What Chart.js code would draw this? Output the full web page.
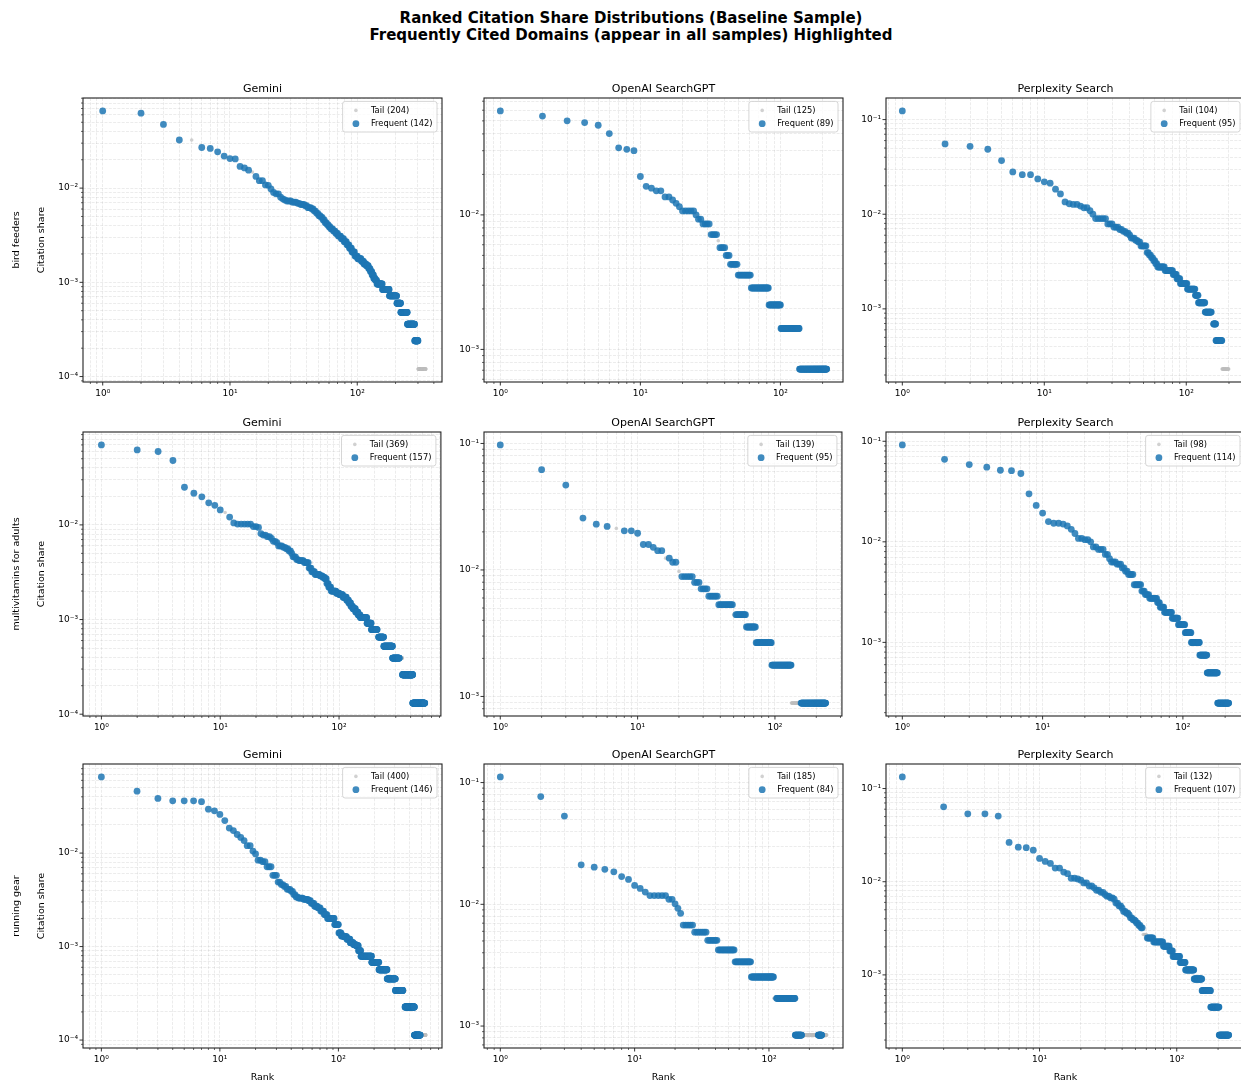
<!DOCTYPE html>
<html>
<head>
<meta charset="utf-8">
<script src="https://cdn.jsdelivr.net/npm/chart.js@4.4.0/dist/chart.umd.min.js"></script>
<style>
  html, body { margin: 0; padding: 0; background: #fff; }
  body { width: 1241px; height: 1084px; overflow: hidden; position: relative; font-family: 'DejaVu Sans', sans-serif; }
  #suptitle { position: absolute; left: 0; width: 1262px; top: 10px; text-align: center; font-weight: bold; font-size: 15px; line-height: 17px; color: #000; }
  canvas { position: absolute; }
</style>
</head>
<body>
<div id="suptitle">Ranked Citation Share Distributions (Baseline Sample)<br>Frequently Cited Domains (appear in all samples) Highlighted</div>
<script>
// panel labels
const engines = ['Gemini', 'OpenAI SearchGPT', 'Perplexity Search'];
const queries = ['bird feeders', 'multivitamins for adults', 'running gear'];

// legend counts per query row / engine column
const tailCounts = [[204, 125, 104], [369, 139, 98], [400, 185, 132]];
const frequentCounts = [[142, 89, 95], [157, 95, 114], [146, 84, 107]];

// share by rank: [first rank, share] holds until the next entry's rank
const birdGemini = [[1,.066],[2,.0625],[3,.0474],[4,.0324],[6,.027],[7,.0264],[8,.0243],[9,.0219],[10,.0206],[11,.0204],[12,.017],[13,.0164],[14,.0155],[15,.0148],[16,.0133],[17,.012],[19,.0108],[20,.0107],[21,.0098],[22,.009],[23,.0087],[25,.008],[26,.0077],[27,.0075],[28,.0073],[31,.0071],[34,.0069],[36,.0067],[39,.0065],[41,.0062],[44,.006],[46,.0057],[48,.0054],[50,.0051],[52,.0049],[54,.0046],[56,.0043],[58,.0041],[60,.0039],[62,.0037],[65,.0035],[68,.0033],[71,.0031],[75,.0029],[79,.0027],[83,.0025],[87,.0023],[91,.0021],[96,.0019],[101,.00178],[108,.00167],[113,.00157],[118,.0015],[123,.0014],[127,.0013],[131,.0012],[135,.0011],[139,.00105],[143,.00096],[158,.00084],[179,.00072],[205,.0006],[220,.00048],[248,.00036],[283,.00024],[301,.00012]];
const birdOpenAI = [[1,.0593],[2,.0543],[3,.05],[4,.0486],[5,.0464],[6,.0402],[7,.0315],[8,.0307],[9,.03],[10,.0193],[11,.0163],[12,.0158],[13,.0151],[15,.0136],[17,.0129],[18,.0122],[19,.0115],[20,.0107],[25,.01],[26,.0093],[28,.00857],[32,.00714],[36,.00643],[37,.00571],[41,.005],[44,.00429],[50,.00357],[62,.00286],[83,.00214],[101,.00143],[137,.000714]];
const birdPerplexity = [[1,.1235],[2,.0553],[3,.0522],[4,.0486],[5,.0369],[6,.028],[7,.0262],[9,.0236],[10,.022],[11,.0213],[12,.0184],[13,.0164],[14,.0135],[15,.0129],[16,.0127],[18,.0122],[19,.0117],[21,.0109],[22,.01],[23,.009],[28,.0079],[31,.0073],[34,.0069],[36,.0066],[38,.0063],[40,.006],[41,.0056],[44,.0053],[46,.0051],[48,.00462],[53,.00393],[55,.0037],[57,.00346],[59,.00323],[61,.003],[63,.00277],[71,.00254],[81,.00231],[86,.00208],[91,.00185],[102,.00162],[116,.00139],[122,.00116],[136,.000924],[151,.000693],[162,.000462],[179,.000231]];

const vitGemini = [[1,.07],[2,.0619],[3,.0596],[4,.0479],[5,.025],[6,.0216],[7,.0198],[8,.0171],[9,.0161],[10,.0144],[11,.0135],[12,.0121],[13,.0105],[14,.0102],[19,.0096],[21,.0094],[22,.0081],[23,.0078],[25,.0075],[27,.0072],[28,.0067],[30,.0065],[31,.006],[34,.0058],[36,.0056],[38,.0053],[40,.005],[41,.0046],[44,.0043],[46,.0042],[51,.004],[56,.0035],[59,.0032],[63,.003],[69,.0029],[73,.0028],[76,.0027],[79,.0024],[82,.0022],[86,.002],[95,.0019],[101,.00183],[108,.00172],[116,.0016],[121,.0015],[126,.00138],[131,.0013],[138,.0012],[145,.00112],[151,.00105],[172,.000914],[187,.000784],[210,.000653],[238,.000522],[282,.000392],[342,.000261],[417,.000131]];
const vitOpenAI = [[1,.0974],[2,.062],[3,.0469],[4,.0257],[5,.023],[6,.0221],[7,.0213],[8,.0204],[10,.0195],[11,.0159],[13,.0151],[14,.0142],[16,.0124],[18,.0115],[20,.00974],[21,.00886],[26,.00797],[29,.00709],[33,.0062],[39,.00531],[50,.00443],[62,.00354],[73,.00266],[95,.00177],[132,.000886]];
const vitPerplexity = [[1,.092],[2,.0662],[3,.0586],[4,.0552],[5,.0515],[6,.051],[7,.0478],[8,.03],[9,.023],[10,.0193],[11,.0159],[12,.0153],[14,.015],[15,.0144],[16,.0133],[17,.0121],[18,.0108],[20,.0105],[22,.01],[23,.0089],[25,.0084],[28,.0075],[30,.0068],[31,.0063],[34,.006],[37,.0055],[39,.0051],[41,.00473],[45,.00374],[51,.00324],[54,.00299],[58,.00274],[66,.00249],[69,.00224],[74,.00199],[84,.00174],[93,.0015],[104,.00125],[115,.000997],[132,.000747],[149,.000498],[177,.000249]];

const runGemini = [[1,.0653],[2,.0459],[3,.0384],[4,.0362],[7,.0355],[8,.0295],[9,.0283],[10,.0259],[11,.0223],[12,.0185],[13,.0174],[14,.0158],[15,.0147],[16,.0136],[17,.012],[19,.0105],[20,.0098],[21,.0084],[23,.0081],[25,.00714],[28,.00578],[31,.0049],[33,.0046],[35,.0044],[37,.0041],[40,.0039],[42,.0036],[44,.0034],[46,.0033],[51,.0032],[56,.0031],[59,.0029],[63,.0027],[67,.0026],[71,.0024],[76,.0022],[81,.002],[93,.00172],[101,.0014],[106,.0013],[111,.00128],[118,.0012],[126,.0011],[134,.00105],[141,.00102],[148,.000904],[155,.00079],[191,.000678],[220,.000565],[258,.000452],[303,.000339],[365,.000226],[438,.000113]];
const runOpenAI = [[1,.1113],[2,.0767],[3,.0531],[4,.0211],[5,.0202],[6,.0194],[7,.0185],[8,.0169],[9,.016],[10,.0143],[11,.0135],[12,.0126],[13,.0118],[18,.011],[20,.0101],[21,.00927],[22,.00843],[23,.00675],[28,.0059],[35,.00506],[42,.00422],[56,.00337],[74,.00253],[109,.00169],[157,.000843]];
const runPerplexity = [[1,.1333],[2,.0637],[3,.0536],[5,.0506],[6,.0264],[7,.0235],[8,.0232],[9,.0218],[10,.0178],[11,.0165],[12,.0157],[13,.014],[15,.0127],[16,.0122],[17,.0109],[19,.0107],[20,.0104],[21,.0097],[23,.009],[25,.0086],[26,.0081],[28,.0077],[30,.0073],[31,.007],[33,.0067],[35,.0065],[36,.0059],[38,.0055],[40,.0052],[41,.0048],[43,.0046],[45,.0044],[46,.0041],[48,.0039],[50,.0038],[51,.0036],[53,.0034],[55,.0032],[57,.00271],[61,.00249],[68,.00226],[80,.00203],[89,.00181],[94,.00158],[106,.00136],[116,.00113],[134,.000904],[153,.000678],[177,.000452],[204,.000226]];

// rank ranges that belong to the tail (grey) group and show in the picture
const birdGeminiTail = [[5,5],[15,15],[301,346]];
const birdOpenAITail = [[36,36]];
const birdPerplexityTail = [[151,155],[179,199]];
const vitGeminiTail = [[11,11],[210,214],[322,341]];
const vitOpenAITail = [[7,7],[16,16],[20,20],[50,51],[132,154]];
const vitPerplexityTail = [];
const runGeminiTail = [[350,364],[490,546]];
const runOpenAITail = [[109,113],[176,232],[248,269]];
const runPerplexityTail = [[57,60]];

const shareTable = [[birdGemini, birdOpenAI, birdPerplexity], [vitGemini, vitOpenAI, vitPerplexity], [runGemini, runOpenAI, runPerplexity]];
const tailTable = [[birdGeminiTail, birdOpenAITail, birdPerplexityTail], [vitGeminiTail, vitOpenAITail, vitPerplexityTail], [runGeminiTail, runOpenAITail, runPerplexityTail]];

const FONT = "'DejaVu Sans', sans-serif";
const BLUE = 'rgba(31,119,180,0.85)';
const GREY = 'rgba(190,190,190,0.7)';
const colLeft = [83, 484, 886];
const rowTop = [98, 432, 764];
const plotW = 359, plotH = 284, titleH = 20, padR = 4;

const SUP = {'-': '\u207B', '0': '\u2070', '1': '\u00B9', '2': '\u00B2', '3': '\u00B3', '4': '\u2074', '5': '\u2075', '6': '\u2076', '7': '\u2077', '8': '\u2078', '9': '\u2079'};
function powLabel(e) {
    return '10' + String(e).split('').map(c => SUP[c]).join('');
}
function isPow10(v) {
    const e = Math.log10(v);
    return Math.abs(e - Math.round(e)) < 1e-6;
}
function tickFormat(v) {
    return isPow10(v) ? powLabel(Math.round(Math.log10(v))) : '';
}
function logTicks(min, max) {
    const out = [];
    for (let e = Math.floor(Math.log10(min)) - 1; e <= Math.ceil(Math.log10(max)); e++) {
        for (let m = 1; m <= 9; m++) {
            const v = m * Math.pow(10, e);
            if (v >= min && v <= max) out.push({value: v});
        }
    }
    return out;
}
// matplotlib-like 5% margins in log space
function logLimits(lo, hi) {
    const a = Math.log10(lo), b = Math.log10(hi), m = 0.05 * (b - a);
    return [Math.pow(10, a - m), Math.pow(10, b + m)];
}
function expand(steps, n, tail) {
    const freq = [], grey = [];
    let k = 0;
    for (let r = 1; r <= n; r++) {
        while (k + 1 < steps.length && steps[k + 1][0] <= r) k++;
        const p = {x: r, y: steps[k][1]};
        if (tail.some(t => r >= t[0] && r <= t[1])) grey.push(p); else freq.push(p);
    }
    return {freq, grey};
}

// box around the axes plus outward major/minor tick marks
const framePlugin = {
    id: 'frame',
    afterDatasetsDraw(chart) {
        const {ctx, chartArea: a, scales} = chart;
        ctx.save();
        ctx.strokeStyle = '#000';
        scales.x.ticks.forEach(t => {
            const px = scales.x.getPixelForValue(t.value);
            const major = isPow10(t.value);
            ctx.lineWidth = major ? 0.8 : 0.6;
            ctx.beginPath();
            ctx.moveTo(px, a.bottom);
            ctx.lineTo(px, a.bottom + (major ? 3.5 : 2));
            ctx.stroke();
        });
        scales.y.ticks.forEach(t => {
            const py = scales.y.getPixelForValue(t.value);
            const major = isPow10(t.value);
            ctx.lineWidth = major ? 0.8 : 0.6;
            ctx.beginPath();
            ctx.moveTo(a.left, py);
            ctx.lineTo(a.left - (major ? 3.5 : 2), py);
            ctx.stroke();
        });
        ctx.strokeStyle = '#222';
        ctx.lineWidth = 1.1;
        ctx.strokeRect(a.left, a.top, a.right - a.left, a.bottom - a.top);
        ctx.restore();
    }
};

const legendPlugin = {
    id: 'boxLegend',
    afterDraw(chart) {
        const {ctx, chartArea: a} = chart;
        const ds = chart.data.datasets;
        ctx.save();
        ctx.font = '8.3px ' + FONT;
        const tw = Math.max(...ds.map(d => ctx.measureText(d.label).width));
        const w = 28.3 + tw + 4.5, h = 30.6;
        const x0 = a.right - 5 - w, y0 = a.top + 3.4;
        ctx.fillStyle = 'rgba(255,255,255,0.8)';
        ctx.strokeStyle = '#cccccc';
        ctx.lineWidth = 0.8;
        ctx.beginPath();
        ctx.roundRect(x0, y0, w, h, 2.5);
        ctx.fill();
        ctx.stroke();
        ds.forEach((d, k) => {
            const y = y0 + 9 + k * 13.3;
            ctx.fillStyle = d.backgroundColor;
            ctx.beginPath();
            ctx.arc(x0 + 13.3, y, d.pointRadius, 0, Math.PI * 2);
            ctx.fill();
            ctx.fillStyle = '#000';
            ctx.textBaseline = 'middle';
            ctx.textAlign = 'left';
            ctx.fillText(d.label, x0 + 28.3, y);
        });
        ctx.restore();
    }
};

function axisBase(limits) {
    return {
        type: 'logarithmic',
        min: limits[0],
        max: limits[1],
        afterBuildTicks: s => { s.ticks = logTicks(limits[0], limits[1]); },
        ticks: {autoSkip: false, maxRotation: 0, minRotation: 0, color: '#000', font: {family: FONT, size: 9}, callback: tickFormat},
        grid: {color: 'rgba(176,176,176,0.3)', lineWidth: 0.8, drawTicks: false},
        border: {display: false, dash: [3, 1.3]}
    };
}

shareTable.forEach((row, i) => row.forEach((steps, j) => {
    const n = tailCounts[i][j] + frequentCounts[i][j];
    const pts = expand(steps, n, tailTable[i][j]);
    const shares = steps.map(s => s[1]);
    const xl = logLimits(1, n);
    const yl = logLimits(Math.min(...shares), Math.max(...shares));
    const wy = j === 0 ? 80 : 44;
    const hx = i === 2 ? 42 : 26;

    const canvas = document.createElement('canvas');
    canvas.width = wy + plotW + padR;
    canvas.height = titleH + plotH + hx;
    canvas.style.left = (colLeft[j] - wy) + 'px';
    canvas.style.top = (rowTop[i] - titleH) + 'px';
    document.body.appendChild(canvas);

    const x = axisBase(xl);
    x.afterFit = s => { s.height = hx; };
    x.ticks.padding = 6.5;
    x.title = {display: i === 2, text: 'Rank', color: '#000', font: {family: FONT, size: 9.5}, padding: {top: 0, bottom: 6.3}};

    const y = axisBase(yl);
    y.afterFit = s => { s.width = wy; };
    y.ticks.padding = 5;
    y.title = {display: j === 0, text: [queries[i], 'Citation share'], color: '#000', font: {family: FONT, size: 9.5, lineHeight: 2.63}, padding: {top: 1.5, bottom: 0}};

    new Chart(canvas, {
        type: 'scatter',
        data: {
            datasets: [
                {label: 'Tail (' + tailCounts[i][j] + ')', data: pts.grey, backgroundColor: GREY, pointRadius: 1.8, borderWidth: 0, order: 2},
                {label: 'Frequent (' + frequentCounts[i][j] + ')', data: pts.freq, backgroundColor: BLUE, pointRadius: 3.4, borderWidth: 0, order: 1}
            ]
        },
        options: {
            responsive: false,
            animation: false,
            layout: {padding: {left: 0, right: padR, top: 0, bottom: 0}},
            scales: {x: x, y: y},
            plugins: {
                title: {display: true, text: engines[j], fullSize: false, color: '#000', font: {family: FONT, size: 11, weight: 'normal'}, padding: {top: 4.8, bottom: 2}},
                legend: {display: false},
                tooltip: {enabled: false}
            }
        },
        plugins: [framePlugin, legendPlugin]
    });
}));
</script>
</body>
</html>
